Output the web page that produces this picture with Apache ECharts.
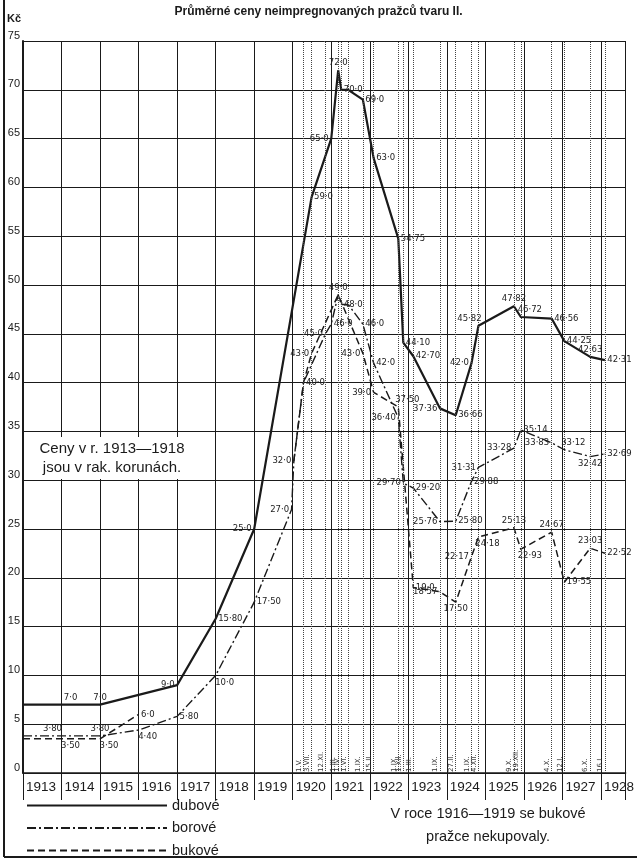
<!DOCTYPE html>
<html>
<head>
<meta charset="utf-8">
<script src="https://cdn.jsdelivr.net/npm/echarts@6/dist/echarts.min.js"></script>
<style>
  html, body { margin: 0; padding: 0; background: #fff; }
  #chart { width: 637px; height: 859px; }
</style>
</head>
<body>
<div id="chart"></div>
<script>
// dotted date lines (decimal years) and their labels
var dateX = [1920.28, 1920.49, 1920.85, 1921.18, 1921.26, 1921.44, 1921.82, 1922.10, 1922.74, 1922.87,
  1923.13, 1923.82, 1924.23, 1924.64, 1924.82, 1925.74, 1925.92, 1926.72, 1927.05, 1927.72, 1928.10]
var dateNames = ['1.V.', '3.VII.', '12.XI.', '1.III.', '1.IV.', '1.VI.', '1.IX.', '15.II.', '1.IX.', '1.XII.',
  '1.III.', '1.IX.', '27.II.', '1.IX.', '4.XII.', '9.X.', '19.XII.', '4.X.', '12.I.', '6.X.', '16.I.']

// dubové
var dubYears = [1913, 1914, 1915, 1917, 1918, 1919, 1920.49, 1921.0, 1921.18, 1921.26, 1921.44, 1921.82,
  1922.10, 1922.74, 1922.87, 1923.13, 1923.82, 1924.23, 1924.64, 1924.82, 1925.74, 1925.92, 1926.72,
  1927.05, 1927.72, 1928.10]
var dubPrices = [7.0, 7.0, 7.0, 9.0, 15.80, 25.0, 59.0, 65.0, 72.0, 70.0, 70.0, 69.0,
  63.0, 54.75, 44.10, 42.70, 37.36, 36.66, 42.0, 45.82, 47.82, 46.72, 46.56,
  44.25, 42.63, 42.31]

// borové
var borYears = [1913, 1914, 1915, 1916, 1917, 1918, 1919, 1919.97, 1920.03, 1920.28, 1920.85, 1921.0,
  1921.18, 1921.26, 1921.44, 1921.82, 1922.10, 1922.74, 1922.87, 1923.13, 1923.82, 1924.23, 1924.64,
  1924.82, 1925.74, 1925.92, 1926.72, 1927.05, 1927.72, 1928.10]
var borPrices = [3.80, 3.80, 3.80, 4.40, 5.80, 10.0, 17.50, 27.0, 32.0, 40.0, 45.0, 46.0,
  49.0, 48.0, 48.0, 46.0, 42.0, 36.40, 29.70, 29.20, 25.76, 25.80, 29.88,
  31.31, 33.28, 35.14, 33.83, 33.12, 32.42, 32.69]

// bukové (1916-1919 none bought)
var bukYears = [1913, 1914, 1915, 1916, 1918, 1920.03, 1920.28, 1920.49, 1921.18, 1921.82, 1922.10,
  1922.74, 1923.13, 1923.82, 1924.23, 1924.64, 1924.82, 1925.74, 1925.92, 1926.72, 1927.05, 1927.72, 1928.10]
var bukPrices = [3.50, 3.50, 3.50, 6.0, null, 32.0, 40.0, 43.0, 49.0, 43.0, 39.0,
  37.50, 19.0, 18.57, 17.50, 22.17, 24.18, 25.13, 22.93, 24.67, 19.55, 23.03, 22.52]

// where each value label sits ('' = no label)
var dubLabelPos = ['', 'tr', 't', 'l', 'r', 'l', 'r', 'l', 't', 'r', '', 'r',
  'r', 'r', 'r', 'r', 'l', 'r', 'l', 'tl', 't', 'tr', 'r', 'r', 't', 'r']
var borLabelPos = ['', 'tl', 't', 'br', 'r', 'br', 'r', 'l', 'l', 'r', 'l', 'r',
  't', 'r', '', 'r', 'r', 'l', 'l', 'r', 'l', 'r', 'r', 'l', 'l', 'r', 'l', 'tr', 'b', 'r']
var bukLabelPos = ['', 'br', 'br', 'r', '', '', '', 'l', '', 'l', 'l',
  'tr', 'r', 'l', 'b', 'l', 'br', 't', 'br', 't', 'r', 't', 'r']

var seriesNames = ['dubové', 'borové', 'bukové']

var FONT = 'Liberation Sans'
var INK = '#1a1a1a'

function fmt(v) {
  var s = Number.isInteger(v) ? v.toFixed(1) : v.toFixed(2)
  return s.replace('.', '·')
}

function labelFor(code) {
  if (!code) return { show: false }
  var map = {
    t: ['top', [0, 0]], b: ['bottom', [0, 0]], l: ['left', [0, 0]], r: ['right', [0, 0]],
    tl: ['top', [-9, 0]], tr: ['top', [9, 0]], bl: ['bottom', [-9, 0]], br: ['bottom', [9, 0]]
  }
  return { show: true, position: map[code][0], offset: map[code][1] }
}

function buildData(xs, ys, pos) {
  return xs.map(function(x, i) {
    if (ys[i] == null) return [x, '-']
    return { value: [x, ys[i]], label: labelFor(pos[i]) }
  })
}

var pointLabel = {
  fontSize: 8.5,
  color: '#222',
  fontFamily: 'DejaVu Sans',
  distance: 2,
  formatter: function(p) { return fmt(p.value[1]) }
}

// one legend per row, stacked under the year row
var legends = seriesNames.map(function(name, i) {
  return {
    left: 26,
    top: 798 + i * 22.5,
    padding: 0,
    itemWidth: 140,
    itemHeight: 14,
    itemStyle: { opacity: 0 },
    textStyle: { fontSize: 14.5, color: INK, fontFamily: FONT },
    data: [name]
  }
})

var chart = echarts.init(document.getElementById('chart'))

var option = {
  animation: false,
  backgroundColor: '#fff',
  grid: { left: 23, right: 4, top: 41, bottom: 86 },
  xAxis: {
    type: 'value',
    min: 1913,
    max: 1928.64,
    interval: 1,
    axisLine: { show: true, lineStyle: { color: INK, width: 1.5 } },
    axisTick: { show: true, length: 27, lineStyle: { color: INK, width: 1 } },
    axisLabel: {
      align: 'left',
      padding: [0, 0, 0, 3],
      margin: 7,
      fontSize: 13.5,
      color: INK,
      fontFamily: FONT,
      formatter: function(v) { return Number.isInteger(v) ? String(v) : '' }
    },
    splitLine: { show: true, lineStyle: { color: INK, width: 1 } }
  },
  yAxis: {
    type: 'value',
    min: 0,
    max: 75,
    interval: 5,
    axisLine: { show: true, lineStyle: { color: INK, width: 2 } },
    axisTick: { show: false },
    axisLabel: {
      fontSize: 11,
      color: INK,
      fontFamily: FONT,
      margin: 3,
      verticalAlign: 'bottom'
    },
    splitLine: { show: true, lineStyle: { color: INK, width: 1 } }
  },
  legend: legends,
  series: [
    {
      name: 'dubové',
      type: 'line',
      data: buildData(dubYears, dubPrices, dubLabelPos),
      symbol: 'circle',
      symbolSize: 1,
      itemStyle: { color: INK },
      lineStyle: { color: INK, width: 2.2 },
      label: pointLabel,
      emphasis: { disabled: true },
      z: 4,
      markLine: {
        silent: true,
        symbol: ['none', 'none'],
        lineStyle: { type: 'dotted', color: '#444', width: 1 },
        label: {
          position: 'insideStartTop',
          fontSize: 7,
          color: '#333',
          fontFamily: 'DejaVu Sans',
          distance: 1
        },
        data: dateX.map(function(x, i) {
          return { xAxis: x, label: { formatter: dateNames[i] } }
        })
      }
    },
    {
      name: 'borové',
      type: 'line',
      data: buildData(borYears, borPrices, borLabelPos),
      symbol: 'circle',
      symbolSize: 1,
      itemStyle: { color: INK },
      lineStyle: { color: INK, width: 1.4, type: [9, 3, 2, 3] },
      label: pointLabel,
      emphasis: { disabled: true },
      z: 3
    },
    {
      name: 'bukové',
      type: 'line',
      data: buildData(bukYears, bukPrices, bukLabelPos),
      symbol: 'circle',
      symbolSize: 1,
      connectNulls: false,
      itemStyle: { color: INK },
      lineStyle: { color: INK, width: 1.5, type: [7, 4] },
      label: pointLabel,
      emphasis: { disabled: true },
      z: 3
    }
  ],
  graphic: [
    {
      type: 'text', left: 'center', top: 6,
      style: { text: 'Průměrné ceny neimpregnovaných pražců tvaru II.', font: 'bold 12px ' + FONT, fill: INK }
    },
    {
      type: 'text', left: 7, top: 13,
      style: { text: 'Kč', font: 'bold 11px ' + FONT, fill: INK }
    },
    {
      type: 'text', x: 112, y: 437, z: 10,
      style: {
        text: 'Ceny v r. 1913—1918\njsou v rak. korunách.',
        font: '15px ' + FONT, fill: INK, align: 'center', lineHeight: 19,
        backgroundColor: '#fff', padding: [2, 3]
      }
    },
    {
      type: 'text', x: 488, y: 802,
      style: {
        text: 'V roce 1916—1919 se bukové\npražce nekupovaly.',
        font: '14.5px ' + FONT, fill: INK, align: 'center', lineHeight: 23
      }
    },
    {
      type: 'line', shape: { x1: 4, y1: 0, x2: 4, y2: 857 },
      style: { stroke: INK, lineWidth: 2 }
    },
    {
      type: 'line', shape: { x1: 4, y1: 857, x2: 637, y2: 857 },
      style: { stroke: INK, lineWidth: 2 }
    }
  ]
}

chart.setOption(option)
window.addEventListener('resize', function() {
  chart.resize()
})
</script>
</body>
</html>
